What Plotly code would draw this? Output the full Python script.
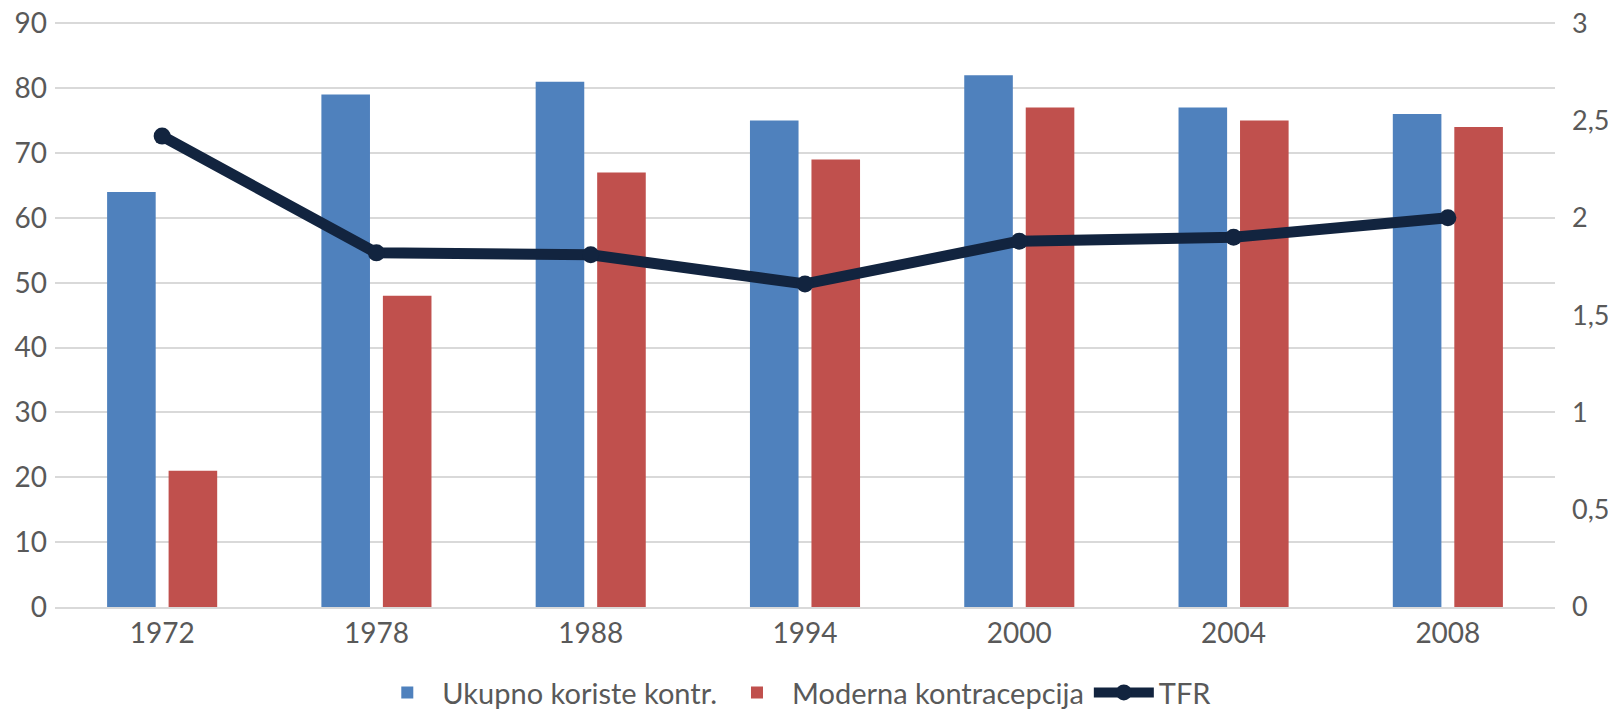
import plotly.graph_objects as go

years = ["1972", "1978", "1988", "1994", "2000", "2004", "2008"]
ukupno = [64, 79, 81, 75, 82, 77, 76]
moderna = [21, 48, 67, 69, 77, 75, 74]
tfr = [2.42, 1.82, 1.81, 1.66, 1.88, 1.90, 2.00]

FONT = "Lato"
TXT = "#595959"
GRID = "#D9D9D9"

fig = go.Figure()
fig.add_trace(go.Bar(x=years, y=ukupno, name="Ukupno koriste kontr.",
                     marker=dict(color="#4F81BD", line=dict(width=0))))
fig.add_trace(go.Bar(x=years, y=moderna, name="Moderna kontracepcija",
                     marker=dict(color="#C0504D", line=dict(width=0))))
fig.add_trace(go.Scatter(x=years, y=tfr, name="TFR", yaxis="y2",
                         mode="lines+markers",
                         line=dict(color="#12243F", width=11),
                         marker=dict(color="#12243F", size=17)))

TOP = 90.35
fig.update_layout(
    width=1616, height=710,
    margin=dict(l=47, r=69, t=13, b=111, autoexpand=False),
    paper_bgcolor="white", plot_bgcolor="white",
    separators=", ",
    barmode="group", bargap=0.426, bargroupgap=0.21,
    font=dict(family=FONT, color=TXT, size=27),
    showlegend=True,
    legend=dict(orientation="h", x=(47 + 750) / 1616, xanchor="center",
                y=-0.146, yanchor="middle",
                font=dict(size=29, color=TXT), traceorder="normal",
                itemwidth=60),
    xaxis=dict(showgrid=False, showline=True, linecolor=GRID, linewidth=2,
               ticks="", ticklabelstandoff=0, tickfont=dict(size=28, color=TXT)),
    yaxis=dict(range=[0, TOP], tick0=0, dtick=10, showgrid=True, gridcolor=GRID,
               gridwidth=2, zeroline=False, ticks="", ticklabelstandoff=7,
               ticklabeloverflow="allow", tickfont=dict(size=28, color=TXT)),
    yaxis2=dict(range=[0, 3 * TOP / 90], tick0=0, dtick=0.5, overlaying="y",
                side="right", showgrid=False, zeroline=False, ticks="",
                ticklabelstandoff=16, ticklabeloverflow="allow",
                tickfont=dict(size=27, color=TXT)),
)

fig.write_html("out.html")
